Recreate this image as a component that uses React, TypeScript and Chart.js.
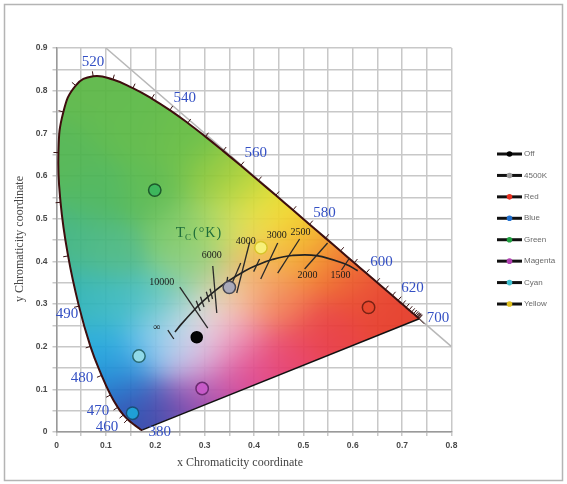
import React, { useEffect, useRef } from 'react';
import { Chart, registerables } from 'chart.js';

Chart.register(...registerables);

// CIE 1931 spectral locus (wavelength nm, x, y)
const wavelengths = [380, 385, 390, 395, 400, 405, 410, 415, 420, 425, 430, 435, 440, 445, 450, 455, 460, 465, 470, 475, 480, 485, 490, 495, 500, 505, 510, 515, 520, 525, 530, 535, 540, 545, 550, 555, 560, 565, 570, 575, 580, 585, 590, 595, 600, 605, 610, 615, 620, 625, 630, 635, 640, 645, 650, 655, 660, 665, 670, 680, 690, 700];
const locusX = [0.1741, 0.1740, 0.1738, 0.1736, 0.1733, 0.1730, 0.1726, 0.1721, 0.1714, 0.1703, 0.1689, 0.1669, 0.1644, 0.1611, 0.1566, 0.1510, 0.1440, 0.1355, 0.1241, 0.1096, 0.0913, 0.0687, 0.0454, 0.0235, 0.0082, 0.0039, 0.0139, 0.0389, 0.0743, 0.1142, 0.1547, 0.1929, 0.2296, 0.2658, 0.3016, 0.3373, 0.3731, 0.4087, 0.4441, 0.4788, 0.5125, 0.5448, 0.5752, 0.6029, 0.6270, 0.6482, 0.6658, 0.6801, 0.6915, 0.7006, 0.7079, 0.7140, 0.7190, 0.7230, 0.7260, 0.7283, 0.7300, 0.7311, 0.7320, 0.7334, 0.7344, 0.7347];
const locusY = [0.0050, 0.0050, 0.0049, 0.0049, 0.0048, 0.0048, 0.0048, 0.0048, 0.0051, 0.0058, 0.0069, 0.0086, 0.0109, 0.0138, 0.0177, 0.0227, 0.0297, 0.0399, 0.0578, 0.0868, 0.1327, 0.2007, 0.2950, 0.4127, 0.5384, 0.6548, 0.7502, 0.8120, 0.8338, 0.8262, 0.8059, 0.7816, 0.7543, 0.7243, 0.6923, 0.6589, 0.6245, 0.5896, 0.5547, 0.5202, 0.4866, 0.4544, 0.4242, 0.3965, 0.3725, 0.3514, 0.3340, 0.3197, 0.3083, 0.2993, 0.2920, 0.2859, 0.2809, 0.2770, 0.2740, 0.2717, 0.2700, 0.2689, 0.2680, 0.2666, 0.2656, 0.2653];

// Measured points
const pointNames = ['Off', '4500K', 'Red', 'Blue', 'Green', 'Magenta', 'Cyan', 'Yellow'];
const pointX = [0.284, 0.350, 0.632, 0.154, 0.199, 0.295, 0.167, 0.414];
const pointY = [0.222, 0.339, 0.292, 0.044, 0.567, 0.102, 0.178, 0.432];
const pointFill = ['#050505', '#a9a9ba', '#e8482e', '#1f9fd6', '#3db65c', '#c65ac8', '#8fd9e8', '#f7f07a'];
const pointBorder = ['#000000', '#4a4a55', '#7a2214', '#1a4f7a', '#1d5a2c', '#6a2a70', '#2a6a72', '#d8c42a'];
const legendDot = ['#000000', '#9a9a9a', '#e83020', '#2070d0', '#20a040', '#b040b0', '#40c0d0', '#e0c020'];

// Planckian locus
const planckX = [0.2399, 0.2524, 0.2807, 0.2952, 0.3221, 0.3451, 0.3805, 0.4053, 0.4369, 0.4770, 0.5267, 0.5857, 0.6100];
const planckY = [0.2342, 0.2522, 0.2884, 0.3048, 0.3318, 0.3516, 0.3768, 0.3907, 0.4041, 0.4137, 0.4133, 0.3931, 0.3780];

// Isotemperature segments
const isoX1 = [0.2255, 0.2497, 0.3165, 0.3913, 0.3731, 0.4480, 0.4924, 0.5490, 0.5935, 0.2830, 0.2916, 0.3034, 0.3110, 0.3466, 0.4113];
const isoY1 = [0.2390, 0.3398, 0.3890, 0.4453, 0.3961, 0.4429, 0.4523, 0.4429, 0.4078, 0.3075, 0.3168, 0.3286, 0.3357, 0.3636, 0.4055];
const isoX2 = [0.2376, 0.3064, 0.3246, 0.3650, 0.3489, 0.4136, 0.4480, 0.5025, 0.5773, 0.2910, 0.2988, 0.3094, 0.3160, 0.3436, 0.3993];
const isoY2 = [0.2180, 0.2437, 0.2789, 0.3258, 0.3304, 0.3586, 0.3726, 0.3820, 0.3797, 0.2835, 0.2928, 0.3046, 0.3117, 0.3396, 0.3759];

const tempLabels = ['∞', '10000', '6000', '4000', '3000', '2500', '2000', '1500'];
const tempLabelX = [0.2033, 0.2133, 0.3145, 0.3832, 0.4459, 0.4944, 0.5086, 0.5753];
const tempLabelY = [0.2461, 0.3515, 0.4148, 0.4476, 0.4617, 0.4687, 0.3679, 0.3679];

const waveLabels = ['520', '540', '560', '580', '600', '620', '700', '490', '480', '470', '460', '380'];
const waveLabelX = [0.0738, 0.2599, 0.4034, 0.5430, 0.6582, 0.7209, 0.7725, 0.0212, 0.0516, 0.0839, 0.1021, 0.2093];
const waveLabelY = [0.8671, 0.7827, 0.6539, 0.5132, 0.3984, 0.3375, 0.2672, 0.2765, 0.1266, 0.0492, 0.0117, 0.0000];

// colour anchors of the gamut shading (x, y, r, g, b)
const shadeAnchors: number[][] = [
  [0.07, 0.80, 90, 182, 68], [0.02, 0.65, 78, 180, 78], [0.15, 0.72, 90, 184, 68], [0.25, 0.68, 98, 188, 64],
  [0.20, 0.57, 86, 184, 74], [0.08, 0.55, 72, 180, 88], [0.32, 0.60, 135, 198, 58], [0.38, 0.57, 185, 212, 46],
  [0.44, 0.52, 240, 228, 36], [0.40, 0.48, 242, 230, 90], [0.33, 0.48, 180, 218, 100], [0.26, 0.47, 115, 198, 100],
  [0.03, 0.45, 58, 178, 128], [0.10, 0.42, 76, 184, 128], [0.04, 0.32, 38, 175, 175], [0.10, 0.30, 60, 186, 195],
  [0.08, 0.20, 28, 168, 222], [0.12, 0.13, 25, 138, 215], [0.14, 0.06, 30, 92, 192], [0.17, 0.02, 40, 55, 158],
  [0.23, 0.05, 95, 68, 170], [0.30, 0.08, 170, 66, 170], [0.38, 0.13, 222, 62, 140], [0.46, 0.18, 232, 58, 100],
  [0.55, 0.24, 232, 55, 60], [0.65, 0.30, 232, 60, 40], [0.71, 0.28, 228, 55, 35], [0.60, 0.36, 236, 85, 40],
  [0.55, 0.40, 240, 125, 40], [0.50, 0.44, 244, 170, 35], [0.47, 0.48, 245, 205, 30], [0.42, 0.40, 245, 165, 85],
  [0.36, 0.33, 245, 200, 150], [0.30, 0.27, 244, 232, 228], [0.25, 0.22, 218, 228, 246], [0.20, 0.20, 80, 186, 238],
  [0.22, 0.30, 70, 190, 188], [0.28, 0.17, 222, 180, 222], [0.36, 0.22, 236, 135, 180], [0.45, 0.30, 242, 125, 75],
  [0.28, 0.38, 140, 206, 125]
];

const px = (s: any, v: number) => s.getPixelForValue(v);
const LOCUS_INDEX = pointNames.length + 1 + isoX1.length;

const gamutPlugin = {
  id: 'gamut',
  beforeDatasetsDraw(chart: any) {
    const { ctx, chartArea: a, scales } = chart;
    const xs = scales.x, ys = scales.y;
    const w = Math.ceil(a.right - a.left), h = Math.ceil(a.bottom - a.top);
    const off = document.createElement('canvas');
    off.width = w; off.height = h;
    const octx = off.getContext('2d') as CanvasRenderingContext2D;
    const img = octx.createImageData(w, h);
    const s2 = 2 * 0.05 * 0.05;
    for (let j = 0; j < h; j++) {
      const yv = ys.getValueForPixel(a.top + j + 0.5);
      for (let i = 0; i < w; i++) {
        const xv = xs.getValueForPixel(a.left + i + 0.5);
        let sw = 0, r = 0, g = 0, b = 0;
        for (let k = 0; k < shadeAnchors.length; k++) {
          const an = shadeAnchors[k];
          const dx = xv - an[0], dy = yv - an[1];
          const wt = Math.exp(-(dx * dx + dy * dy) / s2) + 1e-12;
          sw += wt; r += wt * an[2]; g += wt * an[3]; b += wt * an[4];
        }
        const o = (j * w + i) * 4;
        img.data[o] = r / sw; img.data[o + 1] = g / sw; img.data[o + 2] = b / sw; img.data[o + 3] = 255;
      }
    }
    octx.putImageData(img, 0, 0);
    ctx.save();
    ctx.beginPath();
    let done = false;
    try {
      const meta = chart.getDatasetMeta(LOCUS_INDEX);
      const line = meta.dataset;
      line.updateControlPoints(a, 'x');
      line.path(ctx);
      ctx.closePath();
      done = true;
    } catch (e) {
      done = false;
    }
    if (!done) {
      ctx.beginPath();
      for (let k = 0; k < locusX.length; k++) {
        const X = px(xs, locusX[k]), Y = px(ys, locusY[k]);
        if (k === 0) ctx.moveTo(X, Y); else ctx.lineTo(X, Y);
      }
      ctx.closePath();
    }
    ctx.clip();
    ctx.globalAlpha = 0.93;
    ctx.drawImage(off, a.left, a.top);
    ctx.restore();
  },
  afterDatasetsDraw(chart: any) {
    const { ctx, scales } = chart;
    const xs = scales.x, ys = scales.y;
    // wavelength tick marks
    const cx = px(xs, 0.31), cy = px(ys, 0.33);
    ctx.save();
    ctx.strokeStyle = '#3a1414';
    ctx.lineWidth = 1;
    for (let k = 0; k < wavelengths.length; k++) {
      if (wavelengths[k] < 460) continue;
      const k0 = Math.max(0, k - 1), k1 = Math.min(wavelengths.length - 1, k + 1);
      const X = px(xs, locusX[k]), Y = px(ys, locusY[k]);
      let tx = px(xs, locusX[k1]) - px(xs, locusX[k0]);
      let ty = px(ys, locusY[k1]) - px(ys, locusY[k0]);
      const len = Math.hypot(tx, ty);
      if (len < 0.5) { tx = 1; ty = -1; } else { tx /= len; ty /= len; }
      let nx = ty, ny = -tx;
      if ((X - cx) * nx + (Y - cy) * ny < 0) { nx = -nx; ny = -ny; }
      ctx.beginPath();
      ctx.moveTo(X, Y);
      ctx.lineTo(X + nx * 5, Y + ny * 5);
      ctx.stroke();
    }
    // wavelength labels
    ctx.fillStyle = '#3450c4';
    ctx.font = '15px "Liberation Serif"';
    ctx.textAlign = 'center';
    ctx.textBaseline = 'middle';
    for (let k = 0; k < waveLabels.length; k++) {
      ctx.fillText(waveLabels[k], px(xs, waveLabelX[k]), px(ys, waveLabelY[k]));
    }
    // temperature labels
    ctx.fillStyle = '#1a1a1a';
    ctx.font = '10px "Liberation Serif"';
    for (let k = 0; k < tempLabels.length; k++) {
      ctx.fillText(tempLabels[k], px(xs, tempLabelX[k]), px(ys, tempLabelY[k]));
    }
    // Tc(°K) label
    ctx.fillStyle = '#1f6e3a';
    ctx.textAlign = 'left';
    ctx.textBaseline = 'alphabetic';
    const tx0 = px(xs, 0.2417), ty0 = px(ys, 0.4570);
    ctx.font = '15px "Liberation Serif"';
    ctx.fillText('T', tx0, ty0);
    const tw = ctx.measureText('T').width;
    ctx.font = '9px "Liberation Serif"';
    ctx.fillText('C', tx0 + tw, ty0 + 3);
    const cw = ctx.measureText('C').width;
    ctx.font = '14px "Liberation Serif"';
    (ctx as any).letterSpacing = '1px';
    ctx.fillText('(°K)', tx0 + tw + cw + 2, ty0);
    (ctx as any).letterSpacing = '0px';
    ctx.restore();
  },
  afterDraw(chart: any) {
    const { ctx } = chart;
    ctx.save();
    // legend
    for (let i = 0; i < pointNames.length; i++) {
      const y = 154 + i * 21.43;
      ctx.strokeStyle = '#111';
      ctx.lineWidth = 3;
      ctx.beginPath();
      ctx.moveTo(497, y);
      ctx.lineTo(522, y);
      ctx.stroke();
      ctx.beginPath();
      ctx.arc(509.5, y, 2.8, 0, Math.PI * 2);
      ctx.fillStyle = legendDot[i];
      ctx.fill();
      ctx.fillStyle = '#6a6a6a';
      ctx.font = '8px "Liberation Sans"';
      ctx.textAlign = 'left';
      ctx.textBaseline = 'middle';
      ctx.fillText(pointNames[i], 524, y);
    }
    // axis titles
    ctx.fillStyle = '#444';
    ctx.font = '12px "Liberation Serif"';
    ctx.textAlign = 'center';
    ctx.textBaseline = 'middle';
    ctx.fillText('x Chromaticity coordinate', 240, 463);
    ctx.translate(20, 239);
    ctx.rotate(-Math.PI / 2);
    ctx.fillText('y Chromaticity coordinate', 0, 0);
    ctx.setTransform(1, 0, 0, 1, 0, 0);
    // outer frame
    ctx.strokeStyle = '#b4b4b4';
    ctx.lineWidth = 1.5;
    ctx.strokeRect(4.5, 4.5, 558, 476);
    ctx.restore();
  }
};

export default function App() {
  const ref = useRef<HTMLCanvasElement | null>(null);
  useEffect(() => {
    if (!ref.current) return;
    const pointSets = pointNames.map((n, i) => ({
      type: 'scatter' as const,
      label: n,
      data: [{ x: pointX[i], y: pointY[i] }],
      backgroundColor: pointFill[i],
      borderColor: pointBorder[i],
      borderWidth: 1.5,
      pointRadius: i === 0 ? 5.5 : 6.2,
      pointHoverRadius: 6,
      order: 0,
    }));
    const isoSets = isoX1.map((_, i) => ({
      type: 'scatter' as const,
      label: 'iso' + i,
      data: [{ x: isoX1[i], y: isoY1[i] }, { x: isoX2[i], y: isoY2[i] }],
      showLine: true,
      borderColor: '#2a2a2a',
      borderWidth: 1.3,
      pointRadius: 0,
      order: 2,
    }));
    const chart = new Chart(ref.current, {
      type: 'scatter',
      data: {
        datasets: [
          ...pointSets,
          {
            label: 'Planckian',
            data: planckX.map((x, i) => ({ x, y: planckY[i] })),
            showLine: true,
            borderColor: '#222',
            borderWidth: 1.6,
            pointRadius: 0,
            tension: 0.4,
            order: 1,
          } as any,
          ...isoSets,
          {
            label: 'locus',
            data: locusX.map((x, i) => ({ x, y: locusY[i] })),
            showLine: true,
            borderColor: '#3e0e0e',
            borderWidth: 2,
            pointRadius: 0,
            tension: 0.45,
            order: 3,
          } as any,
          {
            label: 'purple',
            data: [{ x: locusX[locusX.length - 1], y: locusY[locusY.length - 1] }, { x: locusX[0], y: locusY[0] }],
            showLine: true,
            borderColor: '#111',
            borderWidth: 1.5,
            pointRadius: 0,
            order: 4,
          },
          {
            label: 'diag',
            data: [{ x: 0.1, y: 0.9 }, { x: 0.8, y: 0.2 }],
            showLine: true,
            borderColor: '#b8b8b8',
            borderWidth: 1.5,
            pointRadius: 0,
            order: 5,
          },
        ],
      },
      options: {
        animation: false,
        responsive: false,
        devicePixelRatio: 1,
        layout: { padding: { left: 0, right: 115.5, top: 48, bottom: 0 } },
        plugins: { legend: { display: false }, tooltip: { enabled: false } },
        scales: {
          x: {
            type: 'linear',
            min: 0,
            max: 0.8,
            ticks: {
              stepSize: 0.05,
              autoSkip: false,
              maxRotation: 0,
              padding: 5,
              color: '#4a4a4a',
              font: { family: 'Liberation Sans', size: 8.5, weight: 'bold' },
              callback: (v: any) => {
                const n = Number(v);
                if (Math.abs(n * 10 - Math.round(n * 10)) > 1e-6) return '';
                return n === 0 ? '0' : n.toFixed(1);
              },
            },
            grid: { color: '#c8c8c8', lineWidth: 1.5, tickLength: 4 },
            border: { color: '#9a9a9a', width: 1.5 },
            afterFit: (s: any) => { s.height = 52; },
          },
          y: {
            type: 'linear',
            min: 0,
            max: 0.9,
            ticks: {
              stepSize: 0.05,
              autoSkip: false,
              padding: 5,
              color: '#4a4a4a',
              font: { family: 'Liberation Sans', size: 8.5, weight: 'bold' },
              callback: (v: any) => {
                const n = Number(v);
                if (Math.abs(n * 10 - Math.round(n * 10)) > 1e-6) return '';
                return n === 0 ? '0' : n.toFixed(1);
              },
            },
            grid: { color: '#c8c8c8', lineWidth: 1.5, tickLength: 4 },
            border: { color: '#9a9a9a', width: 1.5 },
            afterFit: (s: any) => { s.width = 56.5; },
          },
        },
      },
      plugins: [gamutPlugin],
    });
    return () => chart.destroy();
  }, []);
  return (
    <div style={{ position: 'absolute', left: 0, top: 0, width: 567, height: 484, background: '#fff' }}>
      <canvas ref={ref} width={567} height={484} />
    </div>
  );
}
